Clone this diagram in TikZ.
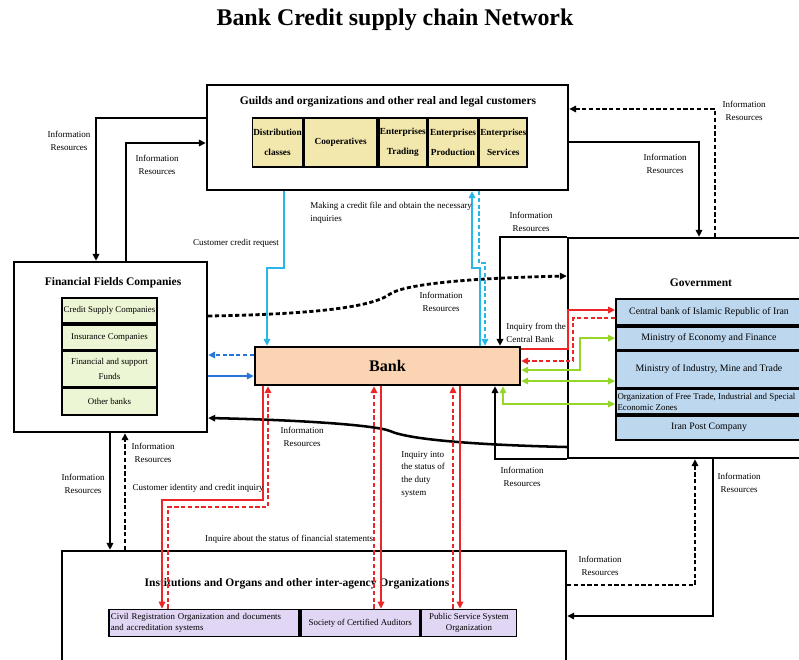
\documentclass[tikz,border=0pt]{standalone}
\usepackage{fontspec}
\setmainfont{Liberation Serif}
\usepackage{tikz}
\usetikzlibrary{arrows.meta, positioning}
\definecolor{guildtan}{RGB}{242, 231, 172}
\definecolor{fingreen}{RGB}{236, 245, 212}
\definecolor{govblue}{RGB}{189, 215, 238}
\definecolor{instlilac}{RGB}{226, 214, 245}
\definecolor{bankpeach}{RGB}{251, 212, 180}
\definecolor{reqcyan}{RGB}{40, 182, 232}
\definecolor{fundblue}{RGB}{38, 118, 218}
\definecolor{inqred}{RGB}{236, 38, 38}
\definecolor{govgreen}{RGB}{150, 214, 40}
\newcommand{\lblfont}{\fontsize{6.4}{9}\selectfont}
\newcommand{\headfont}{\fontsize{8.2}{10}\selectfont\bfseries}

\begin{document}
\begin{tikzpicture}[x=0.025cm, y=-0.025cm, >={Triangle[length=5pt, width=4.6pt]},
  frame/.style={draw, line width=1.6pt},
  guildcell/.style={draw, line width=1.2pt, fill=guildtan, minimum height=1.225cm, inner sep=0.5pt, align=center, font=\fontsize{6.6}{14}\selectfont\bfseries},
  fincell/.style={draw, line width=1.2pt, fill=fingreen, minimum width=2.375cm, inner sep=1pt, align=center, font=\fontsize{6.3}{11}\selectfont},
  govcell/.style={draw, line width=1.2pt, fill=govblue, minimum width=4.65cm, inner sep=1pt, align=center, font=\fontsize{7}{9}\selectfont},
  instcell/.style={draw, line width=1.2pt, fill=instlilac, minimum height=0.675cm, inner sep=1pt, font=\fontsize{6.3}{8}\selectfont},
  lbl/.style={font=\lblfont, align=center, inner sep=0pt},
  info/.style={line width=1.4pt, ->},
  infodash/.style={line width=2pt, dash pattern=on 3pt off 1.8pt, ->},
  cyanline/.style={reqcyan, line width=1.3pt, ->},
  blueline/.style={fundblue, line width=1.6pt, ->},
  redline/.style={inqred, line width=1.4pt, ->},
  greenline/.style={govgreen, line width=1.5pt, <->},
  dashes/.style={dash pattern=on 3pt off 1.8pt}
]
  \useasboundingbox (0,0) rectangle (799,659);
  \clip (0,0) rectangle (799,659);

  % Title
  \node[font=\fontsize{17}{20}\selectfont\bfseries] (title) at (395,20) {Bank Credit supply chain Network};

  % Customers
  \node[frame, minimum width=9.025cm, minimum height=2.625cm] (guilds) at (387.5,137.5) {};
  \node[font=\headfont] (guildstitle) at (388,102) {Guilds and organizations and other real and legal customers};
  \node[guildcell, minimum width=1.225cm] (distrib) at (277.5,142.5) {Distribution\\classes};
  \node[guildcell, minimum width=1.825cm, right=0pt of distrib] (coop) {Cooperatives};
  \node[guildcell, minimum width=1.2cm, right=0pt of coop] (trading) {Enterprises\\Trading};
  \node[guildcell, minimum width=1.225cm, right=0pt of trading] (production) {Enterprises\\Production};
  \node[guildcell, minimum width=1.2cm, right=0pt of production] (services) {Enterprises\\Services};

  % Financial fields
  \node[frame, minimum width=4.825cm, minimum height=4.25cm] (fin) at (110.5,347) {};
  \node[font=\headfont] (fintitle) at (113,283) {Financial Fields Companies};
  \node[fincell, minimum height=0.625cm] (credit) at (109.5,310.5) {Credit Supply Companies};
  \node[fincell, minimum height=0.625cm, below=0pt of credit] (insurance) {Insurance Companies};
  \node[fincell, minimum height=0.875cm, below=0pt of insurance] (funds) {Financial and support\\Funds};
  \node[fincell, minimum height=0.675cm, below=0pt of funds] (otherbanks) {Other banks};

  % Government
  \node[frame, minimum width=5.95cm, minimum height=5.5cm] (gov) at (687,348) {};
  \node[font=\headfont] (govtitle) at (701,283) {Government};
  \node[govcell, minimum height=0.65cm] (central) at (709,312) {Central bank of Islamic Republic of Iran};
  \node[govcell, minimum height=0.575cm, below=0pt of central] (economy) {Ministry of Economy and Finance};
  \node[govcell, minimum height=0.9cm, below=0pt of economy] (industry) {Ministry of Industry, Mine and Trade};
  \node[govcell, minimum height=0.625cm, below=0pt of industry] (freezone) {};
  \node[lbl, anchor=west, align=left, font=\fontsize{6.3}{8}\selectfont] (freezonetext) at ([xshift=1.5pt]freezone.west) {Organization of Free Trade, Industrial and Special\\Economic Zones};
  \node[govcell, minimum height=0.6cm, below=0pt of freezone] (post) {Iran Post Company};

  % Institutions
  \node[frame, minimum width=12.6cm, minimum height=2.825cm] (inst) at (314,607.5) {};
  \node[font=\headfont] (insttitle) at (297,584) {Institutions and Organs and other inter-agency Organizations};
  \node[instcell, minimum width=4.75cm, align=left, text width=4.65cm] (civil) at (204,623) {Civil Registration Organization and documents\\and accreditation systems};
  \node[instcell, minimum width=2.975cm, align=center, right=0pt of civil] (auditors) {Society of Certified Auditors};
  \node[instcell, minimum width=2.375cm, align=center, right=0pt of auditors] (public) {Public Service System\\Organization};

  % Bank
  \node[frame, fill=bankpeach, minimum width=6.625cm, minimum height=0.95cm, font=\fontsize{11.5}{14}\selectfont\bfseries] (bank) at (387.5,366) {Bank};

  % Information resources (black)
  \draw[info] (guilds.west |- 0,118) -| (fin.north -| 96,0);
  \draw[info] (fin.north -| 126,0) |- (guilds.west |- 0,143);
  \draw[infodash] (gov.north -| 715,0) |- (guilds.east |- 0,109);
  \draw[info] (guilds.east |- 0,142) -| (gov.north -| 699,0);
  \draw[info] (fin.south -| 110,0) -- (inst.north -| 110,0);
  \draw[infodash] (inst.north -| 125,0) -- (fin.south -| 125,0);
  \draw[infodash] (inst.east |- 0,585) -| (gov.south -| 695,0);
  \draw[info] (gov.south -| 713,0) |- (inst.east |- 0,616);
  \draw[info] (gov.north west) -| (bank.north -| 500,0);
  \draw[info] (gov.south west) -| (bank.south -| 495,0);
  \draw[infodash] (fin.east |- 0,316) .. controls (330,314) and (375,305) .. (390,294)
    .. controls (405,284) and (470,278) .. (gov.west |- 0,276);
  \draw[info, line width=1.8pt] (gov.west |- 0,447) .. controls (480,445) and (410,440) .. (390,431)
    .. controls (375,425) and (300,420) .. (fin.east |- 0,418);

  % Customer requests
  \draw[cyanline] (guilds.south -| 284,0) -- (284,268) -| (bank.north -| 267,0);
  \draw[cyanline] (bank.north -| 480,0) |- (472,268) -- (guilds.south -| 472,0);
  \draw[cyanline, dashes] (guilds.south -| 479,0) -- (479,263) -| (bank.north -| 485,0);

  % Funds
  \draw[blueline, dashes] (bank.west |- 0,355) -- (fin.east |- 0,355);
  \draw[blueline] (fin.east |- 0,376) -- (bank.west |- 0,376);

  % Central bank inquiry
  \draw[redline] (bank.east |- 0,349) -- (568,349) |- (central.west |- 0,310);
  \draw[redline, dashes] (central.west |- 0,318) -| (573,361) -- (bank.east |- 0,361);

  % Government links
  \draw[greenline] (bank.east |- 0,370) -- (580,370) |- (economy.west);
  \draw[greenline] (bank.east |- 0,381) -- (freezone.west |- 0,381);
  \draw[greenline] (bank.south -| 503,0) |- (freezone.west |- 0,404);

  % Inquiries to institutions
  \draw[redline] (bank.south -| 263,0) -- (263,500) -| (civil.north -| 162,0);
  \draw[redline, dashes] (civil.north -| 168,0) |- (268,507) -- (bank.south -| 268,0);
  \draw[redline] (bank.south -| 381,0) -- (auditors.north -| 381,0);
  \draw[redline, dashes] (auditors.north -| 374,0) -- (bank.south -| 374,0);
  \draw[redline] (bank.south -| 460,0) -- (public.north -| 460,0);
  \draw[redline, dashes] (public.north -| 453,0) -- (bank.south -| 453,0);

  % Labels
  \node[lbl] (ir1) at (69,141) {Information\\Resources};
  \node[lbl] (ir2) at (157,165) {Information\\Resources};
  \node[lbl] (ir3) at (744,111) {Information\\Resources};
  \node[lbl] (ir4) at (665,164) {Information\\Resources};
  \node[lbl] (ir5) at (531,222) {Information\\Resources};
  \node[lbl] (ir6) at (441,302) {Information\\Resources};
  \node[lbl] (ir7) at (302,437) {Information\\Resources};
  \node[lbl] (ir8) at (153,453) {Information\\Resources};
  \node[lbl] (ir9) at (83,484) {Information\\Resources};
  \node[lbl] (ir10) at (522,477) {Information\\Resources};
  \node[lbl] (ir11) at (600,566) {Information\\Resources};
  \node[lbl] (ir12) at (739,483) {Information\\Resources};
  \node[lbl] (reqlbl) at (236,243) {Customer credit request};
  \node[lbl, anchor=north west, align=left] (filelbl) at (310,202) {Making a credit file and obtain the necessary\\inquiries};
  \node[lbl, anchor=west, align=left] (cblbl) at (506,333) {Inquiry from the\\Central Bank};
  \node[lbl] (idlbl) at (198,488) {Customer identity and credit inquiry};
  \node[lbl] (statlbl) at (289,539) {Inquire about the status of financial statements};
  \node[lbl, anchor=north west, align=left] (dutylbl) at (401,451) {Inquiry into\\the status of\\the duty\\system};
\end{tikzpicture}
\end{document}
